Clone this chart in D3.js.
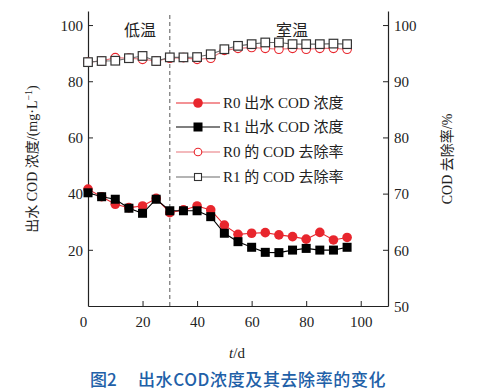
<!DOCTYPE html>
<html><head><meta charset="utf-8">
<script src="https://cdn.jsdelivr.net/npm/d3@7"></script>
<style>body{margin:0;background:#fff}svg{display:block}</style>
</head><body>
<script>
const days = [0,5,10,15,20,25,30,35,40,45,50,55,60,65,70,75,80,85,90,95];
const codR0 = [41.6,38.9,36.2,35.0,35.6,38.3,33.2,34.2,35.6,34.2,28.8,25.5,25.9,26.1,25.3,24.7,23.8,26.2,23.5,24.4];
const codR1 = [40.3,38.9,38.0,34.8,33.0,38.0,33.9,33.9,33.9,31.8,25.9,22.9,20.9,19.1,19.0,19.9,20.5,19.9,19.9,20.9];
const remR0 = [93.4,93.6,94.2,94.1,93.9,93.6,94.1,94.2,93.9,94.1,95.5,95.85,96.0,95.85,95.7,95.85,95.7,95.85,95.85,95.7];
const remR1 = [93.4,93.6,93.65,94.1,94.5,93.6,94.25,94.25,94.3,94.8,95.7,96.3,96.6,96.9,96.9,96.6,96.6,96.6,96.7,96.6];
const xTicks = [0,20,40,60,80,100];
const yLeftTicks = [20,40,60,80,100];
const yRightTicks = [50,60,70,80,90,100];
const legendLabels = ["R0 出水 COD 浓度","R1 出水 COD 浓度","R0 的 COD 去除率","R1 的 COD 去除率"];
const phaseLabels = ["低温","室温"];

const W=477,H=392;
const L=88,R=388,T=11,B=306;
const serif = '"Liberation Serif","Noto Sans CJK SC",serif';
const red="#e8262d", pink="#e8747a", gray="#6b6b6b";

const svg=d3.select("body").append("svg").attr("width",W).attr("height",H);
const x=d3.scaleLinear().domain([0,110]).range([L,R]);
const yl=d3.scaleLinear().domain([0,105]).range([B,T]);
const yr=d3.scaleLinear().domain([50,102.5]).range([B,T]);

// axes
const gx=svg.append("g").attr("transform",`translate(0,${B})`)
  .call(d3.axisBottom(x).tickValues(xTicks).tickSizeInner(-5).tickSizeOuter(0).tickPadding(10));
gx.selectAll(".tick").filter(d=>d===0).select("line").remove();
gx.selectAll(".tick").filter(d=>d===0).select("text").attr("dx",-5);
const gl=svg.append("g").attr("transform",`translate(${L},0)`)
  .call(d3.axisLeft(yl).tickValues(yLeftTicks).tickSizeInner(-5).tickSizeOuter(0).tickPadding(5));
const gr=svg.append("g").attr("transform",`translate(${R},0)`)
  .call(d3.axisRight(yr).tickValues(yRightTicks).tickSizeInner(-5).tickSizeOuter(0).tickPadding(6));
gr.selectAll(".tick").filter(d=>d===50).select("line").remove();
[gx,gl,gr].forEach(g=>{
  g.select(".domain").attr("stroke","#222").attr("stroke-width",1.2);
  g.selectAll(".tick line").attr("stroke","#222");
  g.selectAll("text").attr("font-family",serif).attr("font-size",15).attr("fill","#222");
});
gl.selectAll(".tick text").attr("dy","0.35em");
gr.selectAll(".tick text").attr("dy","0.35em");

// divider
svg.append("line").attr("x1",x(30)).attr("x2",x(30)).attr("y1",T+4).attr("y2",B)
  .attr("stroke","#444").attr("stroke-width",0.9).attr("stroke-dasharray","4,3");
svg.append("text").attr("x",140).attr("y",36).attr("text-anchor","middle")
  .attr("font-family",serif).attr("font-size",16).attr("fill","#222").text(phaseLabels[0]);
svg.append("text").attr("x",292).attr("y",36).attr("text-anchor","middle")
  .attr("font-family",serif).attr("font-size",16).attr("fill","#222").text(phaseLabels[1]);

function drawLine(vals,ys,color){
  svg.append("path").datum(vals).attr("fill","none").attr("stroke",color).attr("stroke-width",1.1)
    .attr("d",d3.line().x((d,i)=>x(days[i])).y(d=>ys(d)));
}
// removal rates
drawLine(remR0,yr,pink);
svg.append("g").selectAll("circle").data(remR0).join("circle")
  .attr("cx",(d,i)=>x(days[i])).attr("cy",d=>yr(d)).attr("r",4.3)
  .attr("fill","#fff").attr("stroke",red).attr("stroke-width",1.1);
drawLine(remR1,yr,gray);
svg.append("g").selectAll("rect").data(remR1).join("rect")
  .attr("x",(d,i)=>x(days[i])-4.3).attr("y",d=>yr(d)-4.3).attr("width",8.6).attr("height",8.6)
  .attr("fill","#fff").attr("stroke","#333").attr("stroke-width",1.2);
// COD
drawLine(codR0,yl,red);
svg.append("g").selectAll("circle").data(codR0).join("circle")
  .attr("cx",(d,i)=>x(days[i])).attr("cy",d=>yl(d)).attr("r",4.8).attr("fill",red);
drawLine(codR1,yl,"#000");
svg.append("g").selectAll("rect").data(codR1).join("rect")
  .attr("x",(d,i)=>x(days[i])-4.5).attr("y",d=>yl(d)-4.5).attr("width",9).attr("height",9).attr("fill","#000");

// legend
const lg=svg.append("g");
const rows=[103,127,152,177];
const lcol=[red,"#000",pink,gray];
rows.forEach((ry,i)=>{
  lg.append("line").attr("x1",176).attr("x2",220).attr("y1",ry).attr("y2",ry).attr("stroke",lcol[i]).attr("stroke-width",1.1);
  if(i===0) lg.append("circle").attr("cx",198).attr("cy",ry).attr("r",4.8).attr("fill",red);
  if(i===1) lg.append("rect").attr("x",193.5).attr("y",ry-4.5).attr("width",9).attr("height",9).attr("fill","#000");
  if(i===2) lg.append("circle").attr("cx",198).attr("cy",ry).attr("r",3.8).attr("fill","#fff").attr("stroke",red).attr("stroke-width",1.1);
  if(i===3) lg.append("rect").attr("x",194.5).attr("y",ry-3.5).attr("width",7).attr("height",7).attr("fill","#fff").attr("stroke","#333").attr("stroke-width",1.1);
  lg.append("text").attr("x",223).attr("y",ry).attr("dy","0.35em").attr("font-family",serif)
    .attr("font-size",15).attr("fill","#222").text(legendLabels[i]);
});

// axis titles
const lt=svg.append("text").attr("transform","translate(37,159) rotate(-90)").attr("text-anchor","middle")
  .attr("font-family",serif).attr("font-size",14).attr("fill","#222");
lt.append("tspan").text("出水 COD 浓度/(mg·L");
lt.append("tspan").attr("dy",-5).attr("font-size",10).text("−1");
lt.append("tspan").attr("dy",5).text(")");
svg.append("text").attr("transform","translate(452,159) rotate(-90)").attr("text-anchor","middle")
  .attr("font-family",serif).attr("font-size",14).attr("fill","#222").text("COD 去除率/%");
const xt=svg.append("text").attr("x",237).attr("y",358).attr("text-anchor","middle")
  .attr("font-family",serif).attr("font-size",15).attr("fill","#222");
xt.append("tspan").attr("font-style","italic").text("t");
xt.append("tspan").text("/d");
const tf='"Noto Sans CJK SC",sans-serif';
svg.append("text").attr("x",90).attr("y",386)
  .attr("font-family",tf).attr("font-size",17).attr("font-weight",500)
  .attr("fill","#2160a8").text("图2");
svg.append("text").attr("x",138).attr("y",386).attr("letter-spacing",0.6)
  .attr("font-family",tf).attr("font-size",17).attr("font-weight",500)
  .attr("fill","#2160a8").text("出水COD浓度及其去除率的变化");
</script>
</body></html>
